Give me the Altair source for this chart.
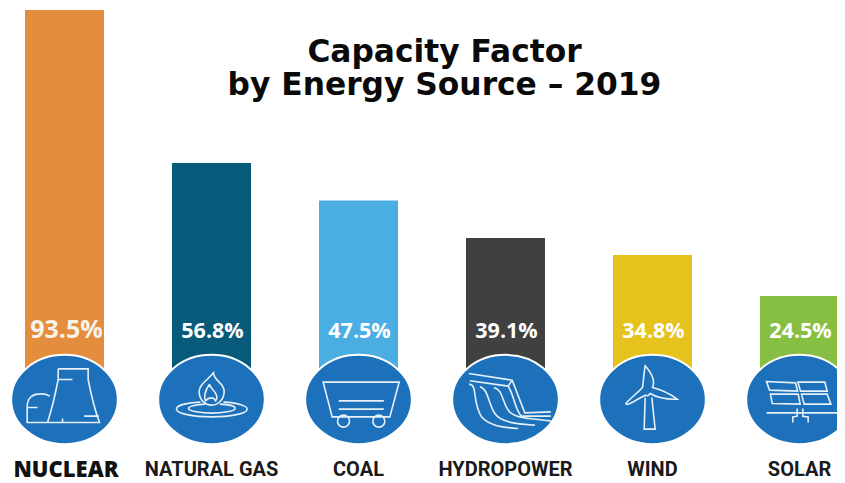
import re
import altair as alt
import pandas as pd

categories = ["NUCLEAR", "NATURAL GAS", "COAL", "HYDROPOWER", "WIND", "SOLAR"]
values = [93.5, 56.6, 47.5, 38.5, 34.4, 24.5]
value_labels = ["93.5%", "56.8%", "47.5%", "39.1%", "34.8%", "24.5%"]
colors = ["#e58d3e", "#085a7a", "#4aaee3", "#404040", "#e6c31c", "#86bf41"]
title_lines = ["Capacity Factor", "by Energy Source \u2013 2019"]

# icon outlines, drawn in their own local units, centred by glyph()
icon_centres = [(194, 268), (634, 268), (1074, 268), (242, 268), (682, 268), (1122, 268)]
icon_paths = [
    "M175,176 L265,176 L265,208 C275,260 285,300 299,337 L82,337 L82,290 C82,262 100,252 115,252 C128,250 140,252 150,258 "
    "M175,176 L175,208 C165,260 155,300 143,337 M175,208 L218,208 M85,292 L113,292 M253,318 L297,318 M188,325 L188,337",
    "M640,188 C642,213 672,218 672,243 C672,268 654,285 635,285 C614,285 597,268 597,245 C597,223 619,213 640,188 Z "
    "M628,222 C630,238 650,243 650,262 C650,268 648,271 646,272 C642,260 626,260 616,272 C612,263 612,243 628,222 "
    "M601,276 C559,278 529,286 529,297 C529,310 579,320 635,320 C691,320 741,310 741,297 C741,286 709,278 670,276 "
    "M565,295 C565,288 594,283 614,282 M565,295 C565,303 604,309 635,309 C666,309 705,303 705,295 C705,288 684,283 659,282",
    "M968,216 L1196,216 L1168,320 L995,320 Z M1015,272 L1150,272 M1015,297 L1150,297 "
    "M1011,333 C1011,323 1019,315 1029,315 C1039,315 1047,323 1047,333 C1047,343 1039,351 1029,351 C1019,351 1011,343 1011,333 Z "
    "M1117,333 C1117,323 1125,315 1135,315 C1145,315 1153,323 1153,333 C1153,343 1145,351 1135,351 C1125,351 1117,343 1117,333 Z",
    "M132,190 L262,210 L300,308 L378,305 M135,212 L250,228 M262,210 L250,228 "
    "M133,222 C160,225 140,270 170,320 C190,345 230,352 280,355 "
    "M165,230 C190,235 190,280 210,310 C230,340 290,342 330,345 "
    "M207,232 C235,240 230,270 250,300 C265,325 320,325 378,332 "
    "M250,228 C270,260 270,300 290,318 L378,318",
    "M660,262 L657,357 L690,357 L680,262 "
    "M660,167 C680,190 690,215 682,232 C715,240 740,255 756,267 C725,268 695,262 675,250 "
    "C670,258 665,258 660,255 C630,270 605,290 602,280 C615,265 635,250 652,232 C655,215 655,195 660,167 Z",
    "M1023,214 L1110,218 L1116,243 L1032,240 Z M1117,216 L1198,216 L1205,243 L1125,243 Z "
    "M1035,252 L1118,252 L1124,282 L1040,280 Z M1128,252 L1205,252 L1216,282 L1136,282 Z "
    "M1023,308 L1235,308 M1115,295 L1115,318 L1102,320 L1102,337 M1132,295 L1132,318 L1148,320 L1148,337",
]
badge_path = "M-160,0 C-160,-74 -88,-134 0,-134 C88,-134 160,-74 160,0 C160,74 88,134 0,134 C-88,134 -160,74 -160,0 Z"
UNIT = 157.5


def glyph(path, cx=0, cy=0):
    count = [0]

    def shift(m):
        v = float(m.group())
        off = cx if count[0] % 2 == 0 else cy
        count[0] += 1
        return f"{(v - off) / UNIT:.4f}"

    return re.sub(r"-?\d+(?:\.\d+)?", shift, path)


df = pd.DataFrame({"cat": categories, "value": values, "label": value_labels})
x = alt.X("cat:N", sort=categories, axis=None,
          scale=alt.Scale(domain=categories, range=[-17, 865], paddingInner=0, paddingOuter=0))
y = alt.Y("value:Q", axis=None, scale=alt.Scale(domain=[0, 100], range=[389.5, -25]))
base = alt.Chart(df)
BADGE_Y = 391.5
SIZE = (2 * UNIT / 3) ** 2

bars = base.mark_bar(size=79, clip=False).encode(
    x=x, y=y,
    color=alt.Color("cat:N", scale=alt.Scale(domain=categories, range=colors), legend=None),
)
badges = base.mark_point(shape=glyph(badge_path), filled=True, fill="#1d71bb", stroke="#ffffff",
                         strokeWidth=2, size=SIZE, opacity=1).encode(x=x, y=alt.value(BADGE_Y))
icons = []
for cat, path, (cx, cy) in zip(categories, icon_paths, icon_centres):
    icons.append(
        base.transform_filter(alt.datum.cat == cat).mark_point(
            shape=glyph(path, cx, cy), filled=False, stroke="#e6f0f9",
            strokeWidth=1.6, size=SIZE, opacity=1,
        ).encode(x=x, y=alt.value(BADGE_Y))
    )

big = alt.datum.cat == categories[0]
value_text = [
    base.transform_filter(big).mark_text(font="Open Sans", fontWeight="bold", fontSize=25, dx=2, color="#f7f3ea").encode(
        x=x, y=alt.value(322), text="label:N"),
    base.transform_filter(~big).mark_text(font="Open Sans", fontWeight="bold", fontSize=21.5, dx=1, color="#ffffff").encode(
        x=x, y=alt.value(323.5), text="label:N"),
]
name_text = [
    base.transform_filter(big).mark_text(font="Open Sans", fontWeight=800, fontSize=22, dx=1.5, color="#111111").encode(
        x=x, y=alt.value(462), text="cat:N"),
    base.transform_filter(~big).mark_text(font="Roboto", fontWeight="bold", fontSize=20, color="#1a1a1a").encode(
        x=x, y=alt.value(462), text="cat:N"),
]
titles = [
    alt.Chart(pd.DataFrame({"t": [t]})).mark_text(
        font="DejaVu Sans", fontWeight="bold", fontSize=31.3, color="#0a0a0a", baseline="alphabetic"
    ).encode(x=alt.value(436.5), y=alt.value(yy), text="t:N")
    for t, yy in zip(title_lines, [54, 87])
]

chart = alt.layer(bars, badges, *icons, *value_text, *name_text, *titles).properties(
    width=829, height=475, padding=0, background="#ffffff",
    autosize=alt.AutoSizeParams(type="none"),
).configure_view(stroke=None)

chart.save("out.html", embed_options={"renderer": "svg", "actions": False})
